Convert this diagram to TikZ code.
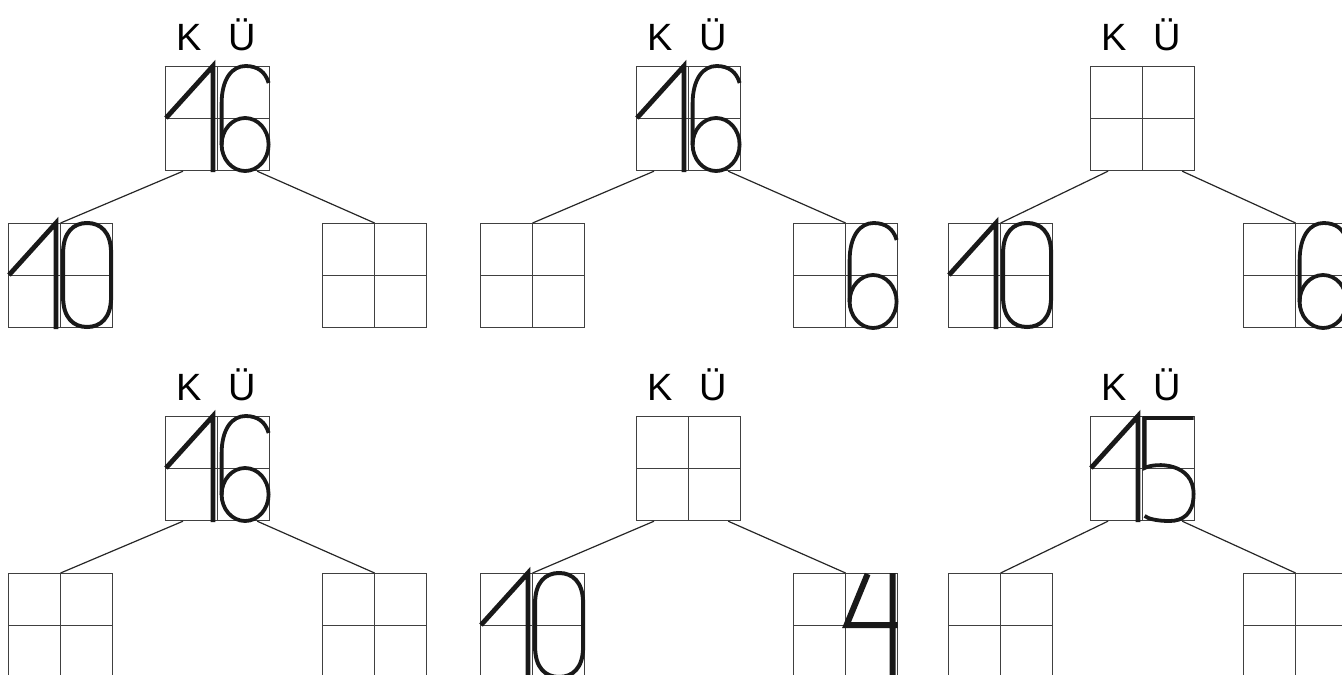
\documentclass[tikz,border=0pt]{standalone}
\usepackage{fontspec}
\setmainfont{Liberation Sans}
\usetikzlibrary{calc}

\begin{document}
\begin{tikzpicture}[
  x=1pt, y=-1pt,
  box/.style={draw=black!75, line width=1.2pt, minimum size=104pt, inner sep=0pt,
              anchor=north west,
              path picture={\draw[black!75, line width=1.2pt]
                (path picture bounding box.north) -- (path picture bounding box.south)
                (path picture bounding box.west)  -- (path picture bounding box.east);}},
  lbl/.style={font=\fontsize{38}{40}\selectfont, inner sep=0pt, anchor=base},
  edge/.style={line width=1.2pt, black!85},
  digit/.style={line width=3.8pt, black!90, line join=miter},
  numone/.pic={\draw[digit, line width=4.8pt] (1,52) -- (48,0) -- (48,106);},
  numsix/.pic={
    \draw[digit] (27.5,78.5) ellipse [x radius=23.5pt, y radius=26.5pt];
    \draw[digit] (4,78.5) -- (4,38) .. controls (4,12) and (15,0) .. (28,0)
                 .. controls (40,0) and (48,6) .. (51,17);},
  numzero/.pic={
    \draw[digit, line width=4pt] (2.5,30) .. controls (2.5,9) and (13,0) .. (26.5,0)
                 .. controls (40,0) and (50.5,9) .. (50.5,30) -- (50.5,74)
                 .. controls (50.5,95) and (40,104) .. (26.5,104)
                 .. controls (13,104) and (2.5,95) .. (2.5,74) -- cycle;},
  numfour/.pic={\draw[digit, line width=6pt] (22,1) -- (1,52) -- (52,52) (47,0) -- (47,106);},
  numfive/.pic={
    \draw[digit] (51,2) -- (2,2) -- (2,52) .. controls (14,46) and (51,47) .. (51,78)
                 .. controls (51,98) and (40,105) .. (27,105)
                 .. controls (15,105) and (6,103) .. (2,100);}
]
\clip (0,0) rectangle (1342,675);

% top row
\node[box] (rootA)  at (165,66)  {};
\node[box] (leftA)  at (8,223)   {};
\node[box] (rightA) at (322,223) {};
\node[lbl] (kA) at ($(rootA.north west)+(24,-16)$) {K};
\node[lbl] (uA) at ($(rootA.north west)+(77,-16)$) {Ü};

\node[box] (rootB)  at (636,66)  {};
\node[box] (leftB)  at (480,223) {};
\node[box] (rightB) at (793,223) {};
\node[lbl] (kB) at ($(rootB.north west)+(24,-16)$) {K};
\node[lbl] (uB) at ($(rootB.north west)+(77,-16)$) {Ü};

\node[box] (rootC)  at (1090,66)  {};
\node[box] (leftC)  at (948,223)  {};
\node[box] (rightC) at (1243,223) {};
\node[lbl] (kC) at ($(rootC.north west)+(24,-16)$) {K};
\node[lbl] (uC) at ($(rootC.north west)+(77,-16)$) {Ü};

% bottom row
\node[box] (rootD)  at (165,416) {};
\node[box] (leftD)  at (8,573)   {};
\node[box] (rightD) at (322,573) {};
\node[lbl] (kD) at ($(rootD.north west)+(24,-16)$) {K};
\node[lbl] (uD) at ($(rootD.north west)+(77,-16)$) {Ü};

\node[box] (rootE)  at (636,416) {};
\node[box] (leftE)  at (480,573) {};
\node[box] (rightE) at (793,573) {};
\node[lbl] (kE) at ($(rootE.north west)+(24,-16)$) {K};
\node[lbl] (uE) at ($(rootE.north west)+(77,-16)$) {Ü};

\node[box] (rootF)  at (1090,416) {};
\node[box] (leftF)  at (948,573)  {};
\node[box] (rightF) at (1243,573) {};
\node[lbl] (kF) at ($(rootF.north west)+(24,-16)$) {K};
\node[lbl] (uF) at ($(rootF.north west)+(77,-16)$) {Ü};

% branches
\draw[edge] ($(rootA.south west)+(18,0)$)  -- (leftA.north);
\draw[edge] ($(rootA.south east)+(-13,0)$) -- (rightA.north);
\draw[edge] ($(rootB.south west)+(18,0)$)  -- (leftB.north);
\draw[edge] ($(rootB.south east)+(-13,0)$) -- (rightB.north);
\draw[edge] ($(rootC.south west)+(18,0)$)  -- (leftC.north);
\draw[edge] ($(rootC.south east)+(-13,0)$) -- (rightC.north);
\draw[edge] ($(rootD.south west)+(18,0)$)  -- (leftD.north);
\draw[edge] ($(rootD.south east)+(-13,0)$) -- (rightD.north);
\draw[edge] ($(rootE.south west)+(18,0)$)  -- (leftE.north);
\draw[edge] ($(rootE.south east)+(-13,0)$) -- (rightE.north);
\draw[edge] ($(rootF.south west)+(18,0)$)  -- (leftF.north);
\draw[edge] ($(rootF.south east)+(-13,0)$) -- (rightF.north);

% numbers
\pic at (rootA.north west) {numone};
\pic at (rootA.north)      {numsix};
\pic at (leftA.north west) {numone};
\pic at (leftA.north)      {numzero};

\pic at (rootB.north west) {numone};
\pic at (rootB.north)      {numsix};
\pic at (rightB.north)     {numsix};

\pic at (leftC.north west) {numone};
\pic at (leftC.north)      {numzero};
\pic at (rightC.north)     {numsix};

\pic at (rootD.north west) {numone};
\pic at (rootD.north)      {numsix};

\pic at (leftE.north west) {numone};
\pic at (leftE.north)      {numzero};
\pic at (rightE.north)     {numfour};

\pic at (rootF.north west) {numone};
\pic at (rootF.north)      {numfive};
\end{tikzpicture}
\end{document}
